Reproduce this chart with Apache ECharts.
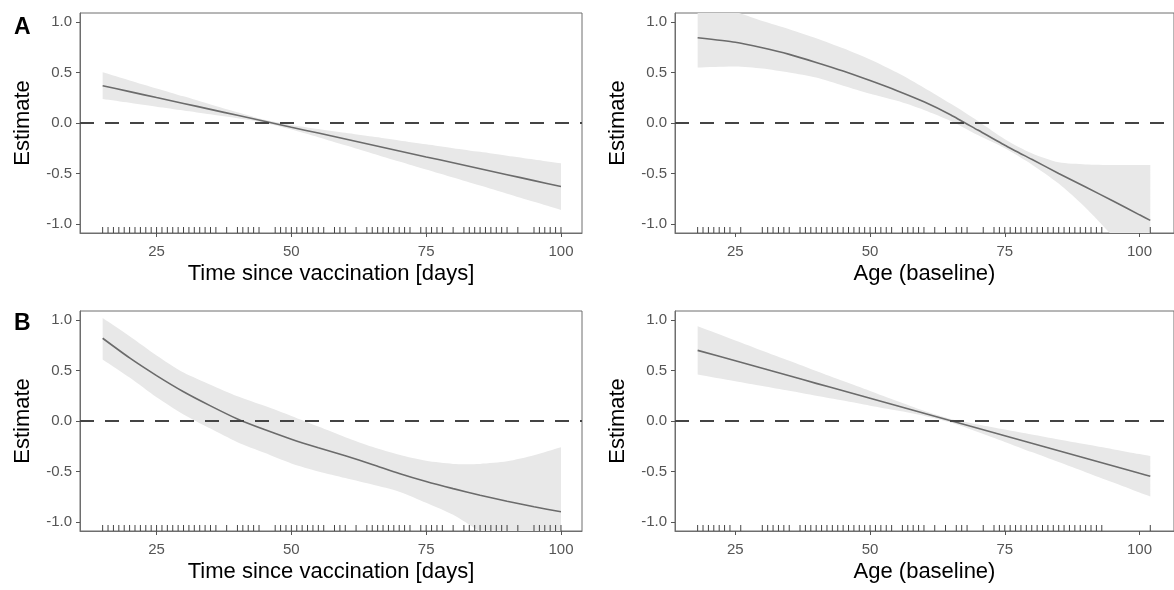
<!DOCTYPE html>
<html>
<head>
<meta charset="utf-8">
<script src="https://cdn.jsdelivr.net/npm/echarts@6/dist/echarts.min.js"></script>
<style>
html, body { margin: 0; padding: 0; background: #fff; }
#container { width: 1174px; height: 590px; }
</style>
</head>
<body>
<div id="container"></div>
<script>
// x grids the curves were read at
var daysX = [15, 20, 25, 30, 35, 40, 45, 50, 55, 60, 65, 70, 75, 80, 85, 90, 95, 100];
var ageX = [18, 25, 30, 35, 40, 45, 50, 55, 60, 65, 70, 75, 80, 85, 90, 95, 100, 102];

// A - time since vaccination
var daysFitA = [0.37, 0.311, 0.252, 0.194, 0.135, 0.076, 0.017, -0.042, -0.100, -0.159, -0.218, -0.277, -0.336, -0.394, -0.453, -0.512, -0.571, -0.63];
var daysLowA = [0.237, 0.200, 0.161, 0.124, 0.086, 0.046, 0.002, -0.065, -0.141, -0.221, -0.301, -0.381, -0.461, -0.540, -0.620, -0.700, -0.781, -0.861];
var daysUpA = [0.503, 0.422, 0.343, 0.264, 0.184, 0.106, 0.032, -0.019, -0.059, -0.097, -0.135, -0.173, -0.211, -0.249, -0.286, -0.324, -0.361, -0.399];

// A - age
var ageFitA = [0.845, 0.80, 0.745, 0.68, 0.60, 0.515, 0.42, 0.32, 0.21, 0.08, -0.07, -0.22, -0.36, -0.50, -0.635, -0.77, -0.91, -0.965];
var ageLowA = [0.55, 0.56, 0.54, 0.50, 0.45, 0.37, 0.29, 0.22, 0.13, 0.02, -0.12, -0.25, -0.41, -0.60, -0.84, -1.12, -1.42, -1.55];
var ageUpA = [1.15, 1.10, 1.01, 0.93, 0.84, 0.74, 0.63, 0.50, 0.35, 0.19, 0.02, -0.16, -0.30, -0.39, -0.41, -0.415, -0.415, -0.415];

// B - time since vaccination
var daysFitB = [0.82, 0.625, 0.45, 0.29, 0.15, 0.02, -0.085, -0.18, -0.265, -0.345, -0.43, -0.52, -0.60, -0.67, -0.735, -0.795, -0.85, -0.90];
var daysLowB = [0.61, 0.43, 0.235, 0.065, -0.075, -0.21, -0.315, -0.42, -0.50, -0.565, -0.63, -0.70, -0.81, -0.93, -1.10, -1.30, -1.52, -1.75];
var daysUpB = [1.02, 0.84, 0.65, 0.48, 0.36, 0.245, 0.15, 0.05, -0.055, -0.16, -0.255, -0.335, -0.395, -0.425, -0.425, -0.40, -0.34, -0.26];

// B - age
var ageFitB = [0.70, 0.596, 0.522, 0.448, 0.373, 0.299, 0.225, 0.151, 0.077, 0.002, -0.072, -0.146, -0.221, -0.295, -0.369, -0.443, -0.518, -0.547];
var ageLowB = [0.462, 0.395, 0.347, 0.299, 0.250, 0.202, 0.152, 0.104, 0.053, -0.015, -0.109, -0.207, -0.308, -0.407, -0.507, -0.607, -0.708, -0.747];
var ageUpB = [0.938, 0.798, 0.697, 0.597, 0.496, 0.396, 0.298, 0.198, 0.101, 0.019, -0.035, -0.085, -0.134, -0.183, -0.231, -0.279, -0.328, -0.347];

// rug (observed values)
var daysRug = [15, 16, 17, 18, 19, 20, 21, 22, 23, 24, 25, 26, 27, 28, 29, 30, 31, 32, 33, 34, 35, 36, 38, 40, 41, 42, 43, 44,
    47, 48, 49, 50, 51, 52, 53, 54, 55, 56, 58, 59, 60, 62, 64, 65, 66, 67, 68, 69, 70, 71, 72,
    74, 75, 76, 77, 78, 80, 82, 83, 84, 85, 86, 87, 88, 89, 90, 92, 95, 96, 97, 98, 99, 100];
var ageRug = [18, 19, 20, 21, 22, 23, 24, 26, 30, 31, 32, 33, 34, 35,
    37, 38, 39, 40, 41, 42, 43, 44, 45, 46, 47, 48, 49, 50, 51, 52, 53, 54,
    56, 57, 58, 59, 60, 62, 64, 66, 67, 68, 71,
    73, 74, 75, 76, 77, 78, 79, 80, 81, 82, 83, 84, 85, 86, 87, 88, 89, 90, 91, 92, 93, 102];

// axis ticks
var yTicks = [-1, -0.5, 0, 0.5, 1];
var xTicks = [25, 50, 75, 100];

var FONT = "'Liberation Sans', Arial, sans-serif";
var Y_MIN = -1.09, Y_MAX = 1.09;

var dom = document.getElementById("container");
var myChart = echarts.init(dom);

var panels = [
    {x: daysX, fit: daysFitA, low: daysLowA, up: daysUpA, rug: daysRug, left: 80, top: 13, width: 502, xmin: 10.8, xmax: 103.9, xname: 'Time since vaccination [days]'},
    {x: ageX, fit: ageFitA, low: ageLowA, up: ageUpA, rug: ageRug, left: 675, top: 13, width: 504, xmin: 13.8, xmax: 106.4, xname: 'Age (baseline)'},
    {x: daysX, fit: daysFitB, low: daysLowB, up: daysUpB, rug: daysRug, left: 80, top: 311, width: 502, xmin: 10.8, xmax: 103.9, xname: 'Time since vaccination [days]'},
    {x: ageX, fit: ageFitB, low: ageLowB, up: ageUpB, rug: ageRug, left: 675, top: 311, width: 504, xmin: 13.8, xmax: 106.4, xname: 'Age (baseline)'}
];

var grids = [], xAxes = [], yAxes = [], series = [];

function pairs(xs, ys) {
    var out = [];
    for (var i = 0; i < xs.length; i++) out.push([xs[i], ys[i]]);
    return out;
}

// whole ribbon as one smoothed polygon: upper edge, then lower edge back.
// end points are doubled so the two short vertical ends stay straight
function bandRender(p) {
    return function (params, api) {
        if (params.dataIndex !== 0) return;
        var n = p.x.length, pts = [], k;
        pts.push(api.coord([p.x[0], p.up[0]]));
        for (k = 0; k < n; k++) pts.push(api.coord([p.x[k], p.up[k]]));
        pts.push(api.coord([p.x[n - 1], p.up[n - 1]]));
        pts.push(api.coord([p.x[n - 1], p.low[n - 1]]));
        for (k = n - 1; k >= 0; k--) pts.push(api.coord([p.x[k], p.low[k]]));
        pts.push(api.coord([p.x[0], p.low[0]]));
        return {
            type: 'polygon',
            shape: {points: pts, smooth: 0.25},
            style: {fill: '#e8e8e8', stroke: null}
        };
    };
}

for (var i = 0; i < panels.length; i++) {
    var p = panels[i];
    grids.push({
        left: p.left, top: p.top, width: p.width, height: 220,
        show: true, borderColor: '#6e6e6e', borderWidth: 1, backgroundColor: 'transparent'
    });
    xAxes.push({
        gridIndex: i, type: 'value', min: p.xmin, max: p.xmax,
        name: p.xname, nameLocation: 'middle', nameGap: 30,
        nameTextStyle: {color: '#000', fontSize: 22, fontFamily: FONT},
        axisLine: {show: true, onZero: false, lineStyle: {color: '#6e6e6e', width: 1}},
        axisTick: {show: true, customValues: xTicks, length: 4, lineStyle: {color: '#555'}},
        axisLabel: {customValues: xTicks, color: '#555', fontSize: 15, fontFamily: FONT, margin: 11},
        splitLine: {show: false}
    });
    yAxes.push({
        gridIndex: i, type: 'value', min: Y_MIN, max: Y_MAX,
        name: 'Estimate', nameLocation: 'middle', nameGap: 46,
        nameTextStyle: {color: '#000', fontSize: 22, fontFamily: FONT},
        axisLine: {show: true, lineStyle: {color: '#6e6e6e', width: 1}},
        axisTick: {show: true, customValues: yTicks, length: 4, lineStyle: {color: '#555'}},
        axisLabel: {customValues: yTicks, color: '#555', fontSize: 15, fontFamily: FONT, margin: 8,
            formatter: function (v) { return v.toFixed(1); }},
        splitLine: {show: false}
    });

    // confidence ribbon
    series.push({
        type: 'custom', xAxisIndex: i, yAxisIndex: i, clip: true, silent: true, z: 1,
        data: pairs(p.x, p.fit),
        renderItem: bandRender(p)
    });
    // fitted line + zero reference
    series.push({
        type: 'line', xAxisIndex: i, yAxisIndex: i,
        data: pairs(p.x, p.fit), showSymbol: false, symbol: 'none', smooth: 0.2,
        lineStyle: {color: '#6b6b6b', width: 1.6}, silent: true, z: 3,
        markLine: {
            silent: true, symbol: ['none', 'none'], label: {show: false},
            lineStyle: {color: '#444', width: 2, type: [14, 11]},
            data: [{yAxis: 0}]
        }
    });
    // rug
    series.push({
        type: 'custom', xAxisIndex: i, yAxisIndex: i, clip: true, silent: true, z: 4,
        data: p.rug.map(function (v) { return [v, Y_MIN]; }),
        renderItem: function (params, api) {
            var pt = api.coord([api.value(0), api.value(1)]);
            return {
                type: 'line',
                shape: {x1: pt[0], y1: pt[1], x2: pt[0], y2: pt[1] - 6},
                style: {stroke: '#444', lineWidth: 1}
            };
        }
    });
}

option = {
    animation: false,
    backgroundColor: '#fff',
    textStyle: {fontFamily: FONT},
    title: [
        {text: 'A', left: 9, top: 11, textStyle: {fontSize: 23, fontWeight: 'bold', color: '#000', fontFamily: FONT}},
        {text: 'B', left: 9, top: 307, textStyle: {fontSize: 23, fontWeight: 'bold', color: '#000', fontFamily: FONT}}
    ],
    grid: grids,
    xAxis: xAxes,
    yAxis: yAxes,
    series: series
};

myChart.setOption(option, true);
</script>
</body>
</html>
